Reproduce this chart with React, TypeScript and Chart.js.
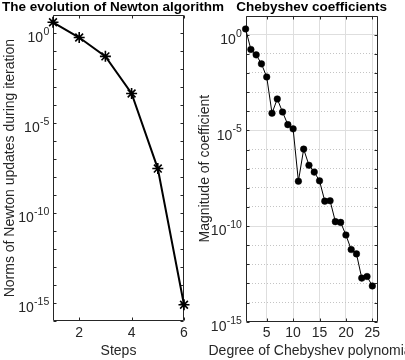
import React, { useEffect, useRef } from "react";
import { Chart, registerables } from "chart.js";

Chart.register(...registerables);

// ---------- data ----------
const newtonSteps = [1, 2, 3, 4, 5, 6];
const newtonNorms = [4.1, 0.58, 5.2e-2, 4.5e-4, 3.0e-8, 8e-16];
const newtonXTicks = [2, 4, 6];
const newtonYDecades = [-16, -15, -14, -13, -12, -11, -10, -9, -8, -7, -6, -5, -4, -3, -2, -1, 0, 1];

const chebDegree = [1, 2, 3, 4, 5, 6, 7, 8, 9, 10, 11, 12, 13, 14, 15, 16, 17, 18, 19, 20, 21, 22, 23, 24, 25];
const chebCoeffs = [
  2.0, 0.17, 0.089, 0.03, 6.2e-3, 7.9e-5, 4.4e-4, 9.1e-5, 2.0e-5, 1.2e-5,
  2.2e-8, 1.05e-6, 1.5e-7, 6.6e-8, 2.3e-8, 2.0e-9, 2.1e-9, 1.7e-10, 1.55e-10, 3.4e-11,
  5.9e-12, 3.5e-12, 1.9e-13, 2.3e-13, 7.4e-14,
];
const chebXTicks = [5, 10, 15, 20, 25];
const chebYDecades = [-15, -14, -13, -12, -11, -10, -9, -8, -7, -6, -5, -4, -3, -2, -1, 0, 1];

// decades that carry a "10^e" label
const labeledExps = [0, -5, -10, -15];

const leftTitle = "The evolution of Newton algorithm";
const leftXLabel = "Steps";
const leftYLabel = "Norms of Newton updates during iteration";
const rightTitle = "Chebyshev coefficients";
const rightXLabel = "Degree of Chebyshev polynomial";
const rightYLabel = "Magnitude of coefficient";

// ---------- style ----------
const FONT = '"Liberation Sans", Arial, Helvetica, sans-serif';
const AXIS = "#262626";

const expOf = (v: number) => Math.round(Math.log10(v));

const framePlugin = {
  id: "matlabFrame",
  beforeDatasetsDraw(chart: any) {
    const { ctx, chartArea: a } = chart;
    const xs = chart.scales.x;
    const ys = chart.scales.y;
    const L = Math.round(a.left) + 0.5;
    const R = Math.round(a.right) - 0.5;
    const T = Math.round(a.top) + 0.5;
    const B = Math.round(a.bottom) - 0.5;
    const tl = 3;
    ctx.save();
    ctx.strokeStyle = AXIS;
    ctx.lineWidth = 1;
    ctx.beginPath();
    ctx.rect(L, T, R - L, B - T);
    xs.ticks.forEach((t: any) => {
      const x = Math.round(xs.getPixelForValue(t.value)) + 0.5;
      ctx.moveTo(x, B);
      ctx.lineTo(x, B - tl);
      ctx.moveTo(x, T);
      ctx.lineTo(x, T + tl);
    });
    ys.ticks.forEach((t: any) => {
      const y = Math.round(ys.getPixelForValue(t.value)) + 0.5;
      ctx.moveTo(L, y);
      ctx.lineTo(L + tl, y);
      ctx.moveTo(R, y);
      ctx.lineTo(R - tl, y);
    });
    ctx.stroke();
    ctx.restore();
  },
};

const textPlugin = {
  id: "matlabText",
  afterDraw(chart: any, _args: any, opts: any) {
    const { ctx, chartArea: a } = chart;
    const ys = chart.scales.y;
    const cx = (a.left + a.right) / 2;
    ctx.save();
    // y tick labels: 10 with raised exponent
    ctx.fillStyle = AXIS;
    ctx.textAlign = "right";
    ctx.textBaseline = "alphabetic";
    const right = a.left - 3.7;
    ys.ticks.forEach((t: any) => {
      const e = expOf(t.value);
      if (!labeledExps.includes(e)) return;
      const y = ys.getPixelForValue(t.value);
      ctx.font = `10.5px ${FONT}`;
      const es = String(e);
      const ew = ctx.measureText(es).width;
      ctx.fillText(es, right, y + 2);
      ctx.font = `14px ${FONT}`;
      ctx.fillText("10", right - ew - 0.3, y + 9.2);
    });
    // title and x label
    ctx.textBaseline = "middle";
    ctx.textAlign = "center";
    ctx.fillStyle = "#000";
    ctx.font = `bold 13.5px ${FONT}`;
    ctx.fillText(opts.title, cx + opts.titleShift, opts.titleY);
    ctx.fillStyle = AXIS;
    ctx.font = `14px ${FONT}`;
    ctx.fillText(opts.xLabel, cx, opts.xLabelY);
    ctx.restore();
  },
};

const tickFont = { family: FONT, size: 14 };

function leftConfig(): any {
  return {
    type: "line",
    data: {
      datasets: [
        {
          data: newtonSteps.map((x, i) => ({ x, y: newtonNorms[i] })),
          borderColor: "#000",
          borderWidth: 2,
          pointStyle: "star",
          pointRadius: 5.5,
          pointBorderWidth: 1.6,
          pointBorderColor: "#000",
          pointBackgroundColor: "#000",
          tension: 0,
          clip: false,
        },
      ],
    },
    options: {
      animation: false,
      responsive: false,
      events: [],
      layout: { padding: { left: 0, right: 221, top: 15.3, bottom: 0 } },
      plugins: {
        legend: { display: false },
        tooltip: { enabled: false },
        title: { display: false },
        matlabText: { title: leftTitle, titleShift: -5.5, titleY: 7, xLabel: leftXLabel, xLabelY: 351.5 },
      },
      scales: {
        x: {
          type: "linear",
          min: 1,
          max: 6,
          afterBuildTicks: (s: any) => { s.ticks = newtonXTicks.map((v) => ({ value: v })); },
          afterFit: (s: any) => { s.height = 39; },
          grid: { display: false, drawTicks: false },
          border: { display: false },
          ticks: { color: AXIS, font: tickFont, padding: 3.5, autoSkip: false, maxRotation: 0, callback: (v: any) => String(v) },
        },
        y: {
          type: "logarithmic",
          min: 1e-16,
          max: 10,
          afterBuildTicks: (s: any) => { s.ticks = newtonYDecades.map((e) => ({ value: Math.pow(10, e) })); },
          afterFit: (s: any) => { s.width = 53; },
          grid: { display: false, drawTicks: false },
          border: { display: false },
          ticks: { display: false, autoSkip: false },
          title: { display: true, text: leftYLabel, color: AXIS, font: tickFont, padding: { top: 1.3, bottom: 0 } },
        },
      },
    },
    plugins: [framePlugin, textPlugin],
  };
}

function rightConfig(): any {
  const yGridColor = (c: any) => {
    if (!c.tick) return "rgba(0,0,0,0)";
    const e = expOf(c.tick.value);
    if (e === 1 || e === -15) return "rgba(0,0,0,0)";
    return e % 5 === 0 ? "#dedede" : "#c4c4c4";
  };
  const yDash = (c: any) => {
    if (!c.tick) return [];
    return expOf(c.tick.value) % 5 === 0 ? [] : [1, 2];
  };
  return {
    type: "line",
    data: {
      datasets: [
        {
          data: chebDegree.map((x, i) => ({ x, y: chebCoeffs[i] })),
          borderColor: "#000",
          borderWidth: 1,
          pointStyle: "circle",
          pointRadius: 3.3,
          pointBorderWidth: 0.5,
          pointBorderColor: "#000",
          pointBackgroundColor: "#000",
          tension: 0,
          clip: false,
        },
      ],
    },
    options: {
      animation: false,
      responsive: false,
      events: [],
      layout: { padding: { left: 196, right: 27.4, top: 15.6, bottom: 0 } },
      plugins: {
        legend: { display: false },
        tooltip: { enabled: false },
        title: { display: false },
        matlabText: { title: rightTitle, titleShift: 0, titleY: 7, xLabel: rightXLabel, xLabelY: 351.5 },
      },
      scales: {
        x: {
          type: "linear",
          min: 1,
          max: 26,
          afterBuildTicks: (s: any) => { s.ticks = chebXTicks.map((v) => ({ value: v })); },
          afterFit: (s: any) => { s.height = 38.3; },
          grid: { drawTicks: false, color: "#dedede", lineWidth: 1 },
          border: { display: false },
          ticks: { color: AXIS, font: tickFont, padding: 3.5, autoSkip: false, maxRotation: 0, callback: (v: any) => String(v) },
        },
        y: {
          type: "logarithmic",
          min: 1e-15,
          max: 10,
          afterBuildTicks: (s: any) => { s.ticks = chebYDecades.map((e) => ({ value: Math.pow(10, e) })); },
          afterFit: (s: any) => { s.width = 49.6; },
          grid: { drawTicks: false, color: yGridColor, lineWidth: 1 },
          border: { display: false, dash: yDash },
          ticks: { display: false, autoSkip: false },
          title: { display: true, text: rightYLabel, color: AXIS, font: tickFont, padding: { top: 0.6, bottom: 0 } },
        },
      },
    },
    plugins: [framePlugin, textPlugin],
  };
}

export default function App() {
  const leftRef = useRef<HTMLCanvasElement | null>(null);
  const rightRef = useRef<HTMLCanvasElement | null>(null);

  useEffect(() => {
    const c1 = new Chart(leftRef.current as HTMLCanvasElement, leftConfig());
    const c2 = new Chart(rightRef.current as HTMLCanvasElement, rightConfig());
    return () => {
      c1.destroy();
      c2.destroy();
    };
  }, []);

  const canvasStyle: React.CSSProperties = { position: "absolute", left: 0, top: 0, width: 405, height: 360 };
  return (
    <div style={{ position: "absolute", left: 0, top: 0, width: 405, height: 360, background: "#fff", overflow: "hidden" }}>
      <canvas ref={rightRef} width={405} height={360} style={canvasStyle} />
      <canvas ref={leftRef} width={405} height={360} style={canvasStyle} />
    </div>
  );
}
